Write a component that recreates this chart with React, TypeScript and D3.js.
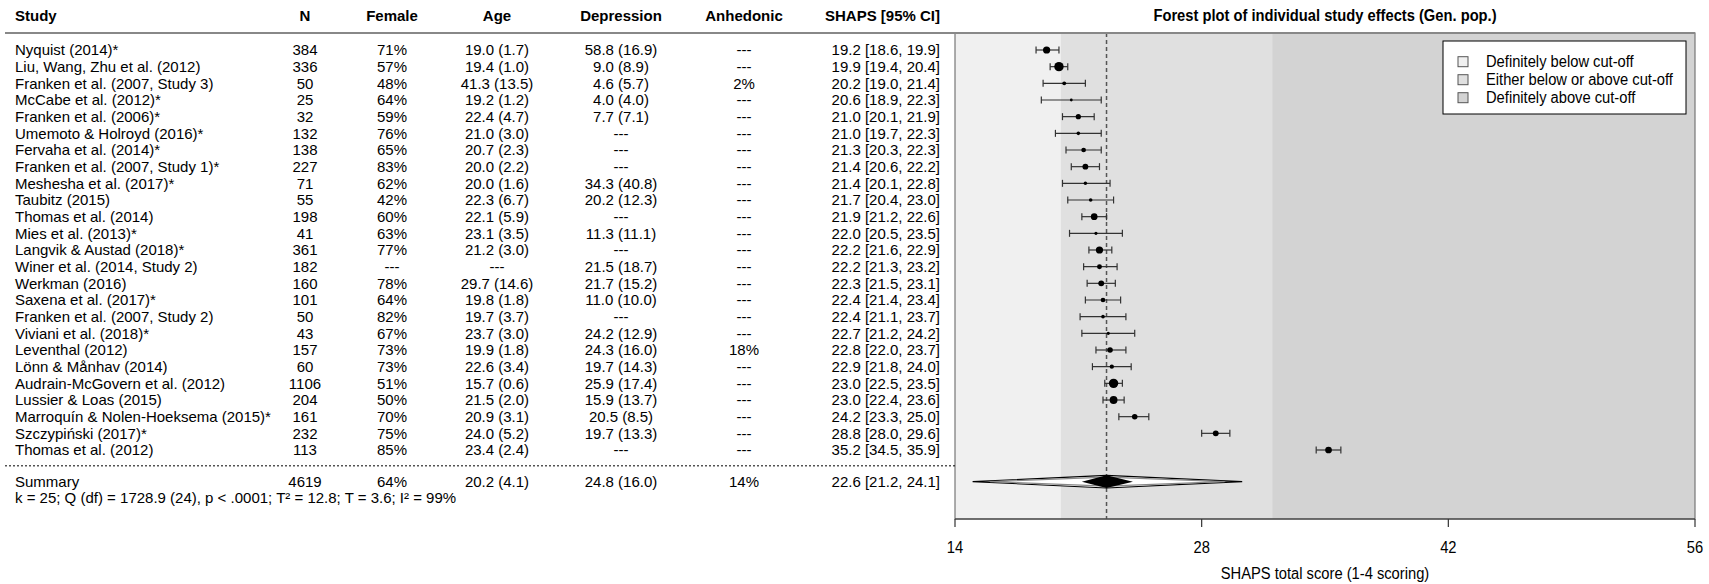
import React, { useRef, useEffect } from "react";
import { select, scaleLinear, max } from "d3";

const studies = [
  "Nyquist (2014)*", "Liu, Wang, Zhu et al. (2012)", "Franken et al. (2007, Study 3)", "McCabe et al. (2012)*",
  "Franken et al. (2006)*", "Umemoto & Holroyd (2016)*", "Fervaha et al. (2014)*", "Franken et al. (2007, Study 1)*",
  "Meshesha et al. (2017)*", "Taubitz (2015)", "Thomas et al. (2014)", "Mies et al. (2013)*",
  "Langvik & Austad (2018)*", "Winer et al. (2014, Study 2)", "Werkman (2016)", "Saxena et al. (2017)*",
  "Franken et al. (2007, Study 2)", "Viviani et al. (2018)*", "Leventhal (2012)", "Lönn & Månhav (2014)",
  "Audrain-McGovern et al. (2012)", "Lussier & Loas (2015)", "Marroquín & Nolen-Hoeksema (2015)*",
  "Szczypiński (2017)*", "Thomas et al. (2012)",
];
const nValues = [384, 336, 50, 25, 32, 132, 138, 227, 71, 55, 198, 41, 361, 182, 160, 101, 50, 43, 157, 60, 1106, 204, 161, 232, 113];
const female = ["71%", "57%", "48%", "64%", "59%", "76%", "65%", "83%", "62%", "42%", "60%", "63%", "77%", "---", "78%", "64%", "82%", "67%", "73%", "73%", "51%", "50%", "70%", "75%", "85%"];
const age = [
  "19.0 (1.7)", "19.4 (1.0)", "41.3 (13.5)", "19.2 (1.2)", "22.4 (4.7)", "21.0 (3.0)", "20.7 (2.3)", "20.0 (2.2)",
  "20.0 (1.6)", "22.3 (6.7)", "22.1 (5.9)", "23.1 (3.5)", "21.2 (3.0)", "---", "29.7 (14.6)", "19.8 (1.8)",
  "19.7 (3.7)", "23.7 (3.0)", "19.9 (1.8)", "22.6 (3.4)", "15.7 (0.6)", "21.5 (2.0)", "20.9 (3.1)", "24.0 (5.2)", "23.4 (2.4)",
];
const depression = [
  "58.8 (16.9)", "9.0 (8.9)", "4.6 (5.7)", "4.0 (4.0)", "7.7 (7.1)", "---", "---", "---", "34.3 (40.8)",
  "20.2 (12.3)", "---", "11.3 (11.1)", "---", "21.5 (18.7)", "21.7 (15.2)", "11.0 (10.0)", "---",
  "24.2 (12.9)", "24.3 (16.0)", "19.7 (14.3)", "25.9 (17.4)", "15.9 (13.7)", "20.5 (8.5)", "19.7 (13.3)", "---",
];
const anhedonic = ["---", "---", "2%", "---", "---", "---", "---", "---", "---", "---", "---", "---", "---", "---", "---", "---", "---", "---", "18%", "---", "---", "---", "---", "---", "---"];
const shapsMean = [19.2, 19.9, 20.2, 20.6, 21.0, 21.0, 21.3, 21.4, 21.4, 21.7, 21.9, 22.0, 22.2, 22.2, 22.3, 22.4, 22.4, 22.7, 22.8, 22.9, 23.0, 23.0, 24.2, 28.8, 35.2];
const shapsLo = [18.6, 19.4, 19.0, 18.9, 20.1, 19.7, 20.3, 20.6, 20.1, 20.4, 21.2, 20.5, 21.6, 21.3, 21.5, 21.4, 21.1, 21.2, 22.0, 21.8, 22.5, 22.4, 23.3, 28.0, 34.5];
const shapsHi = [19.9, 20.4, 21.4, 22.3, 21.9, 22.3, 22.3, 22.2, 22.8, 23.0, 22.6, 23.5, 22.9, 23.2, 23.1, 23.4, 23.7, 24.2, 23.7, 24.0, 23.5, 23.6, 25.0, 29.6, 35.9];

const summaryRow = ["Summary", "4619", "64%", "20.2 (4.1)", "24.8 (16.0)", "14%", "22.6 [21.2, 24.1]"];
const summaryEst = [22.6, 21.2, 24.1];
const summaryOuter = [15.0, 30.3];
const summaryInner = [16.0, 29.3];
const heterogeneity = "k = 25; Q (df) = 1728.9 (24), p < .0001; T² = 12.8; T = 3.6; I² = 99%";

const headers = ["Study", "N", "Female", "Age", "Depression", "Anhedonic", "SHAPS [95% CI]"];
const xTicks = [14, 28, 42, 56];
const cutoffs = [20, 32];
const legendLabels = ["Definitely below cut-off", "Either below or above cut-off", "Definitely above cut-off"];
const zoneColors = ["#f0f0f0", "#e0e0e0", "#d3d3d3"];

const TABLE_FONT = "'Liberation Sans', Arial, sans-serif";

// plot-side text is a bit condensed in the original
const plotText = (parent, x, y, str, opts = {}) =>
  parent.append("text")
    .attr("transform", `translate(${x},${y}) scale(0.92,1)`)
    .attr("dy", "0.35em")
    .attr("text-anchor", opts.anchor || "start")
    .attr("font-family", TABLE_FONT)
    .attr("font-size", 16)
    .attr("font-weight", opts.bold ? "bold" : "normal")
    .text(str);

const App = () => {
  const svgRef = useRef(null);

  useEffect(() => {
    const svg = select(svgRef.current);
    svg.selectAll("*").remove();

    const plotLeft = 955, plotRight = 1695, plotTop = 33, plotBottom = 519;
    const xScale = scaleLinear().domain([14, 56]).range([plotLeft, plotRight]);
    const yScale = scaleLinear().domain([0, 27]).range([50, 500]);

    // column anchor positions
    const cols = [
      { x: 15, anchor: "start" },
      { x: 305, anchor: "middle" },
      { x: 392, anchor: "middle" },
      { x: 497, anchor: "middle" },
      { x: 621, anchor: "middle" },
      { x: 744, anchor: "middle" },
      { x: 940, anchor: "end" },
    ];

    // shaded zones
    const zones = [14, ...cutoffs, 56];
    svg.selectAll(".zone")
      .data(zoneColors)
      .join("rect")
      .attr("x", (d, i) => xScale(zones[i]))
      .attr("width", (d, i) => xScale(zones[i + 1]) - xScale(zones[i]))
      .attr("y", plotTop)
      .attr("height", plotBottom - plotTop)
      .attr("fill", d => d);

    // summary dashed line
    svg.append("line")
      .attr("x1", xScale(summaryEst[0])).attr("x2", xScale(summaryEst[0]))
      .attr("y1", plotTop).attr("y2", plotBottom)
      .attr("stroke", "#555").attr("stroke-width", 1.5).attr("stroke-dasharray", "4,3");

    // box
    svg.append("rect")
      .attr("x", plotLeft).attr("y", plotTop)
      .attr("width", plotRight - plotLeft).attr("height", plotBottom - plotTop)
      .attr("fill", "none").attr("stroke", "#777").attr("stroke-width", 1.2);

    // header line
    svg.append("line")
      .attr("x1", 5).attr("x2", plotRight).attr("y1", plotTop).attr("y2", plotTop)
      .attr("stroke", "#888").attr("stroke-width", 2);

    // headers
    svg.selectAll(".hdr")
      .data(headers)
      .join("text")
      .attr("x", (d, i) => cols[i].x)
      .attr("y", 16)
      .attr("dy", "0.35em")
      .attr("text-anchor", (d, i) => cols[i].anchor)
      .attr("font-family", TABLE_FONT)
      .attr("font-size", 15)
      .attr("font-weight", "bold")
      .text(d => d);

    plotText(svg, (plotLeft + plotRight) / 2, 15, "Forest plot of individual study effects (Gen. pop.)",
      { anchor: "middle", bold: true });

    // table rows
    const rows = studies.map((s, i) => [
      s, String(nValues[i]), female[i], age[i], depression[i], anhedonic[i],
      `${shapsMean[i].toFixed(1)} [${shapsLo[i].toFixed(1)}, ${shapsHi[i].toFixed(1)}]`,
    ]);
    rows.push(summaryRow);
    const rowIndex = i => (i < studies.length ? i : 25.9);

    const rowG = svg.selectAll(".row")
      .data(rows)
      .join("g")
      .attr("transform", (d, i) => `translate(0, ${yScale(rowIndex(i))})`);
    rowG.selectAll("text")
      .data(d => d)
      .join("text")
      .attr("x", (d, i) => cols[i].x)
      .attr("dy", "0.35em")
      .attr("text-anchor", (d, i) => cols[i].anchor)
      .attr("font-family", TABLE_FONT)
      .attr("font-size", 15)
      .text(d => d);

    svg.append("text")
      .attr("x", 15).attr("y", yScale(26.85)).attr("dy", "0.35em")
      .attr("font-family", TABLE_FONT).attr("font-size", 15)
      .text(heterogeneity);

    // dotted separator
    svg.append("line")
      .attr("x1", 5).attr("x2", plotLeft).attr("y1", yScale(24.95)).attr("y2", yScale(24.95))
      .attr("stroke", "#000").attr("stroke-width", 1).attr("stroke-dasharray", "2,2");

    // CIs
    const precision = shapsMean.map((m, i) => 2 / (shapsHi[i] - shapsLo[i]));
    const rScale = scaleLinear().domain([0, max(precision)]).range([0, 4.7]);
    const ci = svg.selectAll(".ci").data(shapsMean).join("g");
    ci.append("line")
      .attr("x1", (d, i) => xScale(shapsLo[i])).attr("x2", (d, i) => xScale(shapsHi[i]))
      .attr("y1", (d, i) => yScale(i)).attr("y2", (d, i) => yScale(i))
      .attr("stroke", "#333").attr("stroke-width", 1.2);
    [shapsLo, shapsHi].forEach(arr => {
      ci.append("line")
        .attr("x1", (d, i) => xScale(arr[i])).attr("x2", (d, i) => xScale(arr[i]))
        .attr("y1", (d, i) => yScale(i) - 3.5).attr("y2", (d, i) => yScale(i) + 3.5)
        .attr("stroke", "#333").attr("stroke-width", 1.2);
    });
    ci.append("circle")
      .attr("cx", d => xScale(d)).attr("cy", (d, i) => yScale(i))
      .attr("r", (d, i) => Math.max(1.4, rScale(precision[i])))
      .attr("fill", "#000");

    // summary diamonds
    const sy = yScale(25.9);
    const diamond = (lo, mid, hi, h) =>
      `M${xScale(lo)},${sy} L${xScale(mid)},${sy - h} L${xScale(hi)},${sy} L${xScale(mid)},${sy + h} Z`;
    svg.append("path").attr("d", diamond(summaryOuter[0], summaryEst[0], summaryOuter[1], 6.3))
      .attr("fill", "#fff").attr("stroke", "#000").attr("stroke-width", 1.1);
    svg.append("path").attr("d", diamond(summaryInner[0], summaryEst[0], summaryInner[1], 4.5))
      .attr("fill", "none").attr("stroke", "#888").attr("stroke-width", 1.1);
    svg.append("path").attr("d", diamond(summaryEst[1], summaryEst[0], summaryEst[2], 6.3))
      .attr("fill", "#000");

    // x axis
    svg.append("line")
      .attr("x1", plotLeft).attr("x2", plotRight).attr("y1", plotBottom).attr("y2", plotBottom)
      .attr("stroke", "#333").attr("stroke-width", 1.2);
    svg.selectAll(".tick")
      .data(xTicks)
      .join("line")
      .attr("x1", d => xScale(d)).attr("x2", d => xScale(d))
      .attr("y1", plotBottom).attr("y2", plotBottom + 8)
      .attr("stroke", "#333").attr("stroke-width", 1.2);
    xTicks.forEach(t => plotText(svg, xScale(t), 547, String(t), { anchor: "middle" }));
    plotText(svg, (plotLeft + plotRight) / 2, 573, "SHAPS total score (1-4 scoring)", { anchor: "middle" });

    // legend
    const lg = svg.append("g").attr("transform", "translate(1443, 41)");
    lg.append("rect").attr("width", 243).attr("height", 73)
      .attr("fill", "#fff").attr("stroke", "#000").attr("stroke-width", 1);
    legendLabels.forEach((label, i) => {
      const yy = 20.7 + i * 18;
      lg.append("rect").attr("x", 15).attr("y", yy - 5).attr("width", 10).attr("height", 10)
        .attr("fill", zoneColors[i]).attr("stroke", "#555").attr("stroke-width", 1);
      plotText(lg, 43, yy, label);
    });
  }, []);

  return (
    <svg ref={svgRef} width={1709} height={584}
      style={{ position: "absolute", top: 0, left: 0, background: "#fff" }} />
  );
};

export default App;
